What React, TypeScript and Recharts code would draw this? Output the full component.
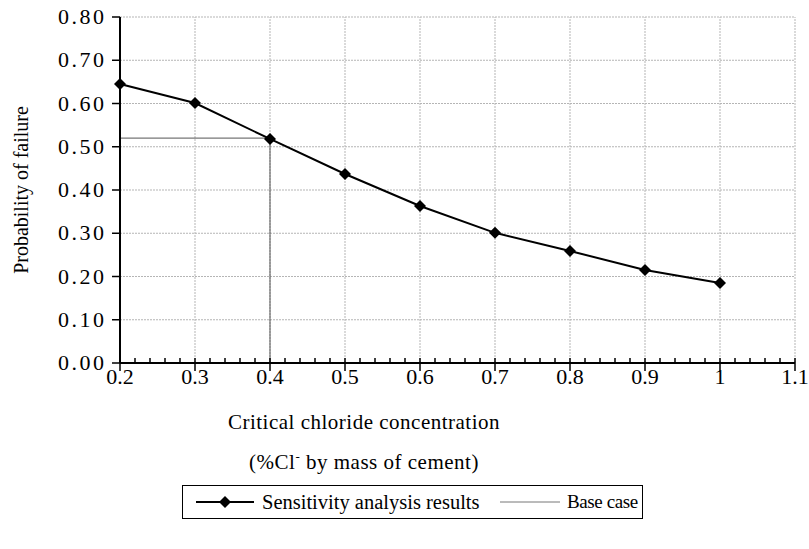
import { CartesianGrid, Legend, Line, LineChart, ReferenceLine, XAxis, YAxis } from 'recharts';

const concentration = [0.2, 0.3, 0.4, 0.5, 0.6, 0.7, 0.8, 0.9, 1.0];
const failureProbability = [0.645, 0.601, 0.518, 0.437, 0.363, 0.301, 0.259, 0.215, 0.185];
const baseCaseX = [0.2, 0.4, 0.4];
const baseCaseY = [0.52, 0.52, 0];
const xMajorTicks = [0.2, 0.3, 0.4, 0.5, 0.6, 0.7, 0.8, 0.9, 1.0, 1.1];
const yTicks = [0, 0.1, 0.2, 0.3, 0.4, 0.5, 0.6, 0.7, 0.8];

const sensitivity = concentration.map((x, i) => ({ x, y: failureProbability[i] }));
const baseCase = baseCaseX.map((x, i) => ({ x, y: baseCaseY[i] }));

// 4 minor ticks between each pair of majors
const xAllTicks: number[] = [];
xMajorTicks.forEach((t, i) => {
  xAllTicks.push(t);
  if (i < xMajorTicks.length - 1) {
    for (let k = 1; k < 5; k++) xAllTicks.push(Math.round((t + k * 0.02) * 100) / 100);
  }
});

const FONT = '"Liberation Serif", "Times New Roman", serif';
const NUM_FS = 22;
const NUM_LS = 2.5;

const isMajor = (v: number) => xMajorTicks.some((t) => Math.abs(t - v) < 1e-6);

function XTick({ x, y, payload }: any) {
  const v = payload.value as number;
  if (!isMajor(v)) {
    return <line x1={x} x2={x} y1={y} y2={y - 5} stroke="#000" strokeWidth={1.5} />;
  }
  return (
    <g>
      <line x1={x} x2={x} y1={y - 5} y2={y + 8} stroke="#000" strokeWidth={1.5} />
      <text x={x} y={y + 21} textAnchor="middle" fill="#000" fontSize={NUM_FS} fontFamily={FONT}>
        {String(Math.round(v * 10) / 10)}
      </text>
    </g>
  );
}

function YTick({ x, y, payload }: any) {
  return (
    <text x={x + NUM_LS} y={y + 7} textAnchor="end" fill="#000" fontSize={NUM_FS} letterSpacing={NUM_LS} fontFamily={FONT}>
      {(payload.value as number).toFixed(2)}
    </text>
  );
}

function Diamond({ cx, cy }: any) {
  if (cx == null || cy == null) return null;
  const r = 6;
  return <polygon points={`${cx},${cy - r} ${cx + r},${cy} ${cx},${cy + r} ${cx - r},${cy}`} fill="#000" />;
}

function XLabel({ viewBox }: any) {
  const cx = viewBox.x + 244;
  return (
    <g fontFamily={FONT} fontSize={21} fill="#000" letterSpacing={0.5}>
      <text x={cx} y={viewBox.y + 66} textAnchor="middle">Critical chloride concentration</text>
      <text x={cx} y={viewBox.y + 106} textAnchor="middle">
        (%Cl<tspan fontSize={13} dy={-8}>-</tspan><tspan dy={8}> by mass of cement)</tspan>
      </text>
    </g>
  );
}

function YLabel({ viewBox }: any) {
  const x = viewBox.x + 28;
  const y = viewBox.y + viewBox.height / 2;
  return (
    <text x={x} y={y} transform={`rotate(-90 ${x} ${y})`} textAnchor="middle" fontFamily={FONT} fontSize={20} fill="#000">
      Probability of failure
    </text>
  );
}

function LegendBox() {
  const item = { position: 'absolute' as const, top: 0, height: 32, display: 'flex', alignItems: 'center' };
  return (
    <div
      style={{
        position: 'relative',
        border: '1px solid #000',
        width: 459,
        height: 32,
        fontFamily: FONT,
        fontSize: 20.5,
        color: '#000',
        boxSizing: 'content-box',
        whiteSpace: 'nowrap',
      }}
    >
      <svg width={58} height={14} style={{ ...item, left: 13, top: 9 }}>
        <line x1={0} x2={58} y1={7} y2={7} stroke="#000" strokeWidth={2} />
        <polygon points="29,1 35,7 29,13 23,7" fill="#000" />
      </svg>
      <span style={{ ...item, left: 79 }}>Sensitivity analysis results</span>
      <svg width={60} height={14} style={{ ...item, left: 317, top: 9 }}>
        <line x1={0} x2={60} y1={7} y2={7} stroke="#777" strokeWidth={1} />
      </svg>
      <span style={{ ...item, left: 384, fontSize: 19, letterSpacing: -0.4 }}>Base case</span>
    </div>
  );
}

export default function App() {
  return (
    <div style={{ position: 'absolute', left: 0, top: 0, width: 809, height: 549, background: '#fff' }}>
      <LineChart width={809} height={549} margin={{ top: 17, right: 14, bottom: 66, left: 0 }}>
        <CartesianGrid vertical={false} stroke="#b5b5b5" strokeDasharray="2 1" />
        {xMajorTicks.slice(1).map((t) => (
          <ReferenceLine key={t} x={t} stroke="#b5b5b5" strokeDasharray="2 1" />
        ))}
        <XAxis
          dataKey="x"
          type="number"
          domain={[0.2, 1.1]}
          ticks={xAllTicks}
          interval={0}
          allowDuplicatedCategory={false}
          height={120}
          axisLine={{ stroke: '#000', strokeWidth: 2 }}
          tickLine={false}
          tickSize={0}
          tickMargin={0}
          tick={<XTick />}
          label={<XLabel />}
        />
        <YAxis
          type="number"
          domain={[0, 0.8]}
          ticks={yTicks}
          width={120}
          axisLine={{ stroke: '#000', strokeWidth: 2 }}
          tickLine={{ stroke: '#000', strokeWidth: 1.5 }}
          tickSize={8}
          tickMargin={8}
          tick={<YTick />}
          label={<YLabel />}
        />
        <Line
          data={baseCase}
          dataKey="y"
          type="linear"
          stroke="#555"
          strokeWidth={1}
          dot={false}
          activeDot={false}
          isAnimationActive={false}
          name="Base case"
        />
        <Line
          data={sensitivity}
          dataKey="y"
          type="linear"
          stroke="#000"
          strokeWidth={2}
          dot={<Diamond />}
          activeDot={false}
          isAnimationActive={false}
          name="Sensitivity analysis results"
        />
        <Legend
          layout="horizontal"
          verticalAlign="middle"
          align="center"
          wrapperStyle={{ top: 485, left: 182, width: 461, height: 34 }}
          content={() => <LegendBox />}
        />
      </LineChart>
    </div>
  );
}
